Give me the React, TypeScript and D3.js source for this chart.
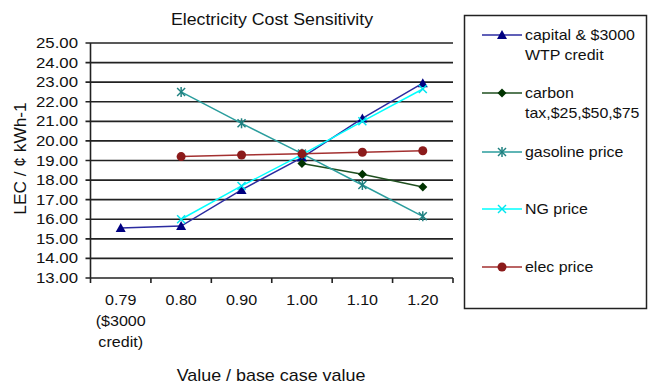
import React from "react";
import * as d3 from "d3";

// categories on the x axis
const categories = ["0.79", "0.80", "0.90", "1.00", "1.10", "1.20"];
const categoryLabels = [["0.79", "($3000", "credit)"], ["0.80"], ["0.90"], ["1.00"], ["1.10"], ["1.20"]];
const yTicks = [13, 14, 15, 16, 17, 18, 19, 20, 21, 22, 23, 24, 25];

// series values (null = no point)
const capitalValues = [15.55, 15.65, 17.5, 19.15, 21.15, 22.95];
const carbonValues = [null, null, null, 18.85, 18.3, 17.65];
const gasolineValues = [null, 22.5, 20.9, 19.35, 17.75, 16.15];
const ngValues = [null, 16.0, 17.7, 19.3, 21.0, 22.65];
const elecValues = [null, 19.2, 19.28, 19.34, 19.42, 19.5];

const series = [
  { name: ["capital & $3000", "WTP credit"], values: capitalValues, color: "#2b2ba0", marker: "triangle", markerColor: "#000080" },
  { name: ["carbon", "tax,$25,$50,$75"], values: carbonValues, color: "#1f4f1f", marker: "diamond", markerColor: "#003300" },
  { name: ["gasoline price"], values: gasolineValues, color: "#2a9d9d", marker: "star", markerColor: "#1f8080" },
  { name: ["NG price"], values: ngValues, color: "#00ffff", marker: "x", markerColor: "#00e5ee" },
  { name: ["elec price"], values: elecValues, color: "#a33030", marker: "circle", markerColor: "#8b1a1a" },
];

const font = "'Liberation Sans', Arial, sans-serif";

// text stretched horizontally, like the reference's wide lettering
const T = ({ x, y, size, sx, anchor = "start", rotate = 0, children }: any) => (
  <g transform={`translate(${x},${y}) rotate(${rotate}) scale(${sx},1)`}>
    <text x={0} y={0} fontSize={size} textAnchor={anchor} fill="#111">
      {children}
    </text>
  </g>
);

const Marker = ({ type, x, y, color }: { type: string; x: number; y: number; color: string }) => {
  if (type === "triangle") {
    return <path d={`M${x},${y - 5}L${x + 5},${y + 4}L${x - 5},${y + 4}Z`} fill={color} />;
  }
  if (type === "diamond") {
    return <path d={`M${x},${y - 4.5}L${x + 4.5},${y}L${x},${y + 4.5}L${x - 4.5},${y}Z`} fill={color} />;
  }
  if (type === "circle") {
    return <circle cx={x} cy={y} r={4.5} fill={color} />;
  }
  if (type === "x") {
    return (
      <g stroke={color} strokeWidth={1.5}>
        <line x1={x - 4} y1={y - 4} x2={x + 4} y2={y + 4} />
        <line x1={x - 4} y1={y + 4} x2={x + 4} y2={y - 4} />
      </g>
    );
  }
  // star: x with vertical bar
  return (
    <g stroke={color} strokeWidth={1.5}>
      <line x1={x - 4} y1={y - 4} x2={x + 4} y2={y + 4} />
      <line x1={x - 4} y1={y + 4} x2={x + 4} y2={y - 4} />
      <line x1={x} y1={y - 5} x2={x} y2={y + 5} />
    </g>
  );
};

const App = () => {
  const width = 648;
  const height = 386;
  const left = 90.5;
  const right = 453;
  const top = 43;
  const bottom = 278;

  const x = d3.scaleBand().domain(categories).range([left, right]);
  const y = d3.scaleLinear().domain([13, 25]).range([bottom, top]);
  const cx = (c: string) => (x(c) as number) + x.bandwidth() / 2;

  const line = d3
    .line<number | null>()
    .defined((d) => d != null)
    .x((d, i) => cx(categories[i]))
    .y((d) => y(d as number));

  const legendY = [35, 93, 152, 209, 267];

  return (
    <div style={{ position: "absolute", left: 0, top: 0 }}>
      <svg width={width} height={height} style={{ display: "block", fontFamily: font }}>
        <rect width={width} height={height} fill="#fff" />
        <T x={272} y={25} size={16} sx={1.11} anchor="middle">
          Electricity Cost Sensitivity
        </T>

        {/* gridlines and y ticks */}
        {yTicks.map((t) => (
          <g key={t}>
            <line x1={left - 5} x2={right} y1={y(t)} y2={y(t)} stroke="#222" strokeWidth={1.6} />
            <T x={78} y={y(t) + 5} size={14} sx={1.2} anchor="end">
              {t.toFixed(2)}
            </T>
          </g>
        ))}
        <line x1={left} x2={left} y1={top} y2={bottom} stroke="#222" strokeWidth={1.6} />

        {/* x axis ticks */}
        {categories.map((c) => (
          <line
            key={c}
            x1={(x(c) as number) + x.bandwidth()}
            x2={(x(c) as number) + x.bandwidth()}
            y1={bottom}
            y2={bottom + 5}
            stroke="#222"
            strokeWidth={1.6}
          />
        ))}
        <line x1={left} x2={left} y1={bottom} y2={bottom + 5} stroke="#222" strokeWidth={1.6} />
        {categories.map((c, i) =>
          categoryLabels[i].map((l, j) => (
            <T key={c + j} x={cx(c)} y={305 + j * 21} size={14} sx={1.15} anchor="middle">
              {l}
            </T>
          ))
        )}

        <T x={271} y={381} size={16} sx={1.12} anchor="middle">
          Value / base case value
        </T>
        <T x={26} y={158.5} size={16} sx={1.08} anchor="middle" rotate={-90}>
          LEC / ¢ kWh-1
        </T>

        {/* series */}
        {series.map((s) => (
          <g key={s.name[0]}>
            <path d={line(s.values) || ""} fill="none" stroke={s.color} strokeWidth={1.5} />
            {s.values.map((v, i) =>
              v == null ? null : (
                <Marker key={i} type={s.marker} x={cx(categories[i])} y={y(v)} color={s.markerColor} />
              )
            )}
          </g>
        ))}

        {/* legend */}
        <rect x={464.5} y={15.5} width={182} height={293} fill="#fff" stroke="#222" strokeWidth={1.5} />
        {series.map((s, i) => (
          <g key={s.name[0]}>
            <line x1={482} x2={522} y1={legendY[i]} y2={legendY[i]} stroke={s.color} strokeWidth={1.5} />
            <Marker type={s.marker} x={502} y={legendY[i]} color={s.markerColor} />
            {s.name.map((l, j) => (
              <T key={j} x={525} y={legendY[i] + 5 + j * 20} size={14} sx={1.14}>
                {l}
              </T>
            ))}
          </g>
        ))}
      </svg>
    </div>
  );
};

export default App;
